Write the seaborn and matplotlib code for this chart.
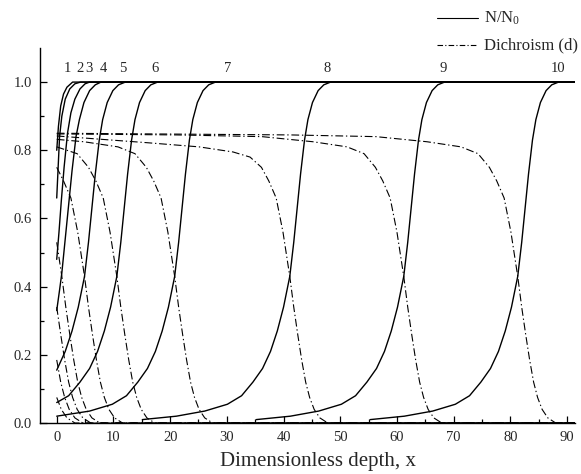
import matplotlib
matplotlib.use("Agg")
import matplotlib.pyplot as plt
import seaborn as sns

# N/N0 profiles (solid), one list per curve label 1..10
n_x = [
    [0, 0.3, 0.7, 1.2, 1.8, 2.8, 91.4],
    [0, 0.25, 0.5, 0.9, 1.5, 2.3, 3.2, 4.2, 91.4],
    [0, 0.4, 0.8, 1.3, 1.9, 2.5, 3.2, 4.1, 5.0, 5.8, 91.4],
    [0, 0.5, 0.9, 1.5, 2.1, 2.7, 3.4, 4.0, 4.8, 5.8, 6.8, 7.8, 91.4],
    [0, 1.5, 2.7, 3.8, 4.9, 5.6, 6.2, 6.8, 7.5, 8.1, 8.9, 9.9, 10.9, 12.1, 91.4],
    [0, 2.1, 4.1, 5.8, 7.2, 8.4, 9.5, 10.6, 11.3, 11.9, 12.5, 13.2, 13.8, 14.6,
     15.6, 16.6, 17.8, 91.4],
    [0, 5.8, 9.8, 12.3, 14.3, 16.0, 17.4, 18.6, 19.7, 20.8, 21.5, 22.1, 22.7, 23.4,
     24.0, 24.8, 25.8, 26.8, 28.0, 91.4],
    [15.1, 21.1, 26.1, 30.1, 32.6, 34.6, 36.3, 37.7, 38.9, 40.0, 41.1, 41.8, 42.4,
     43.0, 43.7, 44.3, 45.1, 46.1, 47.1, 48.3, 91.4],
    [35.2, 41.2, 46.2, 50.2, 52.7, 54.7, 56.4, 57.8, 59.0, 60.1, 61.2, 61.9, 62.5,
     63.1, 63.8, 64.4, 65.2, 66.2, 67.2, 68.4, 91.4],
    [55.3, 61.3, 66.3, 70.3, 72.8, 74.8, 76.5, 77.9, 79.1, 80.2, 81.3, 82.0, 82.6,
     83.2, 83.9, 84.5, 85.3, 86.3, 87.3, 88.5, 91.4],
]
n_y = [
    [0.80, 0.87, 0.93, 0.965, 0.985, 1.0, 1.0],
    [0.66, 0.75, 0.84, 0.90, 0.95, 0.98, 0.995, 1.0, 1.0],
    [0.48, 0.56, 0.65, 0.75, 0.85, 0.91, 0.95, 0.98, 0.995, 1.0, 1.0],
    [0.33, 0.39, 0.44, 0.54, 0.64, 0.74, 0.84, 0.89, 0.94, 0.975, 0.992, 1.0, 1.0],
    [0.155, 0.21, 0.27, 0.34, 0.43, 0.53, 0.63, 0.73, 0.83, 0.89, 0.94, 0.975, 0.992,
     1.0, 1.0],
    [0.06, 0.08, 0.12, 0.16, 0.21, 0.27, 0.34, 0.43, 0.53, 0.63, 0.73, 0.83, 0.89,
     0.94, 0.975, 0.992, 1.0, 1.0],
    [0.02, 0.035, 0.055, 0.08, 0.12, 0.16, 0.21, 0.27, 0.34, 0.43, 0.53, 0.63, 0.73,
     0.83, 0.89, 0.94, 0.975, 0.992, 1.0, 1.0],
    [0.01, 0.02, 0.035, 0.055, 0.08, 0.12, 0.16, 0.21, 0.27, 0.34, 0.43, 0.53, 0.63,
     0.73, 0.83, 0.89, 0.94, 0.975, 0.992, 1.0, 1.0],
    [0.01, 0.02, 0.035, 0.055, 0.08, 0.12, 0.16, 0.21, 0.27, 0.34, 0.43, 0.53, 0.63,
     0.73, 0.83, 0.89, 0.94, 0.975, 0.992, 1.0, 1.0],
    [0.01, 0.02, 0.035, 0.055, 0.08, 0.12, 0.16, 0.21, 0.27, 0.34, 0.43, 0.53, 0.63,
     0.73, 0.83, 0.89, 0.94, 0.975, 0.992, 1.0, 1.0],
]

# dichroism profiles (dash-dot)
d_x = [
    [0, 0.8, 1.8, 3.2, 91.4],
    [0, 0.7, 1.4, 2.2, 3.2, 4.6, 91.4],
    [0, 0.7, 1.4, 2.1, 2.8, 3.6, 4.6, 6.0, 91.4],
    [0, 0.9, 1.6, 2.3, 3.0, 3.7, 4.4, 5.2, 6.2, 7.6, 91.4],
    [0, 1.2, 2.5, 3.7, 4.9, 5.6, 6.3, 7.0, 7.7, 8.4, 9.2, 10.2, 11.6, 91.4],
    [0, 3.6, 5.6, 6.9, 8.2, 9.4, 10.6, 11.3, 12.0, 12.7, 13.4, 14.1, 14.9, 15.9,
     17.3, 91.4],
    [0, 4.8, 10.8, 13.8, 15.8, 17.1, 18.4, 19.6, 20.8, 21.5, 22.2, 22.9, 23.6, 24.3,
     25.1, 26.1, 27.5, 91.4],
    [0, 8.0, 16.1, 25.1, 31.1, 34.1, 36.1, 37.4, 38.7, 39.9, 41.1, 41.8, 42.5, 43.2,
     43.9, 44.6, 45.4, 46.4, 47.8, 91.4],
    [0, 21.2, 36.2, 45.2, 51.2, 54.2, 56.2, 57.5, 58.8, 60.0, 61.2, 61.9, 62.6, 63.3,
     64.0, 64.7, 65.5, 66.5, 67.9, 91.4],
    [0, 41.3, 56.3, 65.3, 71.3, 74.3, 76.3, 77.6, 78.9, 80.1, 81.3, 82.0, 82.7, 83.4,
     84.1, 84.8, 85.6, 86.6, 88.0, 91.4],
]
d_y = [
    [0.075, 0.04, 0.015, 0.0, 0.0],
    [0.185, 0.12, 0.075, 0.04, 0.015, 0.0, 0.0],
    [0.34, 0.26, 0.185, 0.12, 0.075, 0.04, 0.015, 0.0, 0.0],
    [0.53, 0.43, 0.34, 0.26, 0.185, 0.12, 0.075, 0.04, 0.015, 0.0, 0.0],
    [0.75, 0.71, 0.66, 0.56, 0.43, 0.34, 0.26, 0.185, 0.12, 0.075, 0.04, 0.015, 0.0,
     0.0],
    [0.81, 0.79, 0.75, 0.71, 0.66, 0.56, 0.43, 0.34, 0.26, 0.185, 0.12, 0.075, 0.04,
     0.015, 0.0, 0.0],
    [0.832, 0.825, 0.81, 0.79, 0.75, 0.71, 0.66, 0.56, 0.43, 0.34, 0.26, 0.185, 0.12,
     0.075, 0.04, 0.015, 0.0, 0.0],
    [0.842, 0.832, 0.822, 0.81, 0.795, 0.78, 0.75, 0.71, 0.66, 0.56, 0.43, 0.34, 0.26,
     0.185, 0.12, 0.075, 0.04, 0.015, 0.0, 0.0],
    [0.848, 0.845, 0.84, 0.825, 0.81, 0.79, 0.75, 0.71, 0.66, 0.56, 0.43, 0.34, 0.26,
     0.185, 0.12, 0.075, 0.04, 0.015, 0.0, 0.0],
    [0.85, 0.845, 0.84, 0.825, 0.81, 0.79, 0.75, 0.71, 0.66, 0.56, 0.43, 0.34, 0.26,
     0.185, 0.12, 0.075, 0.04, 0.015, 0.0, 0.0],
]

curve_labels = ["1", "2", "3", "4", "5", "6", "7", "8", "9", "10"]
label_x = [1.9, 4.1, 5.6, 8.3, 11.6, 17.3, 30.2, 47.6, 68.1, 88.4]

x_ticks = [0, 10, 20, 30, 40, 50, 60, 70, 80, 90]
y_ticks = [0.0, 0.2, 0.4, 0.6, 0.8, 1.0]

sns.set_theme(style="ticks")
plt.rcParams["font.family"] = ["Liberation Serif", "DejaVu Serif"]
plt.rcParams["mathtext.default"] = "regular"

fig = plt.figure(figsize=(5.81, 4.74), dpi=100)
ax = fig.add_axes([40 / 581, 51 / 474, 535 / 581, 375 / 474])

dashdot = (0, (7, 2.5, 1.2, 2.5))
for xs, ys in zip(d_x, d_y):
    sns.lineplot(x=xs, y=ys, ax=ax, color="black", lw=0.8, estimator=None, sort=False)
    ax.lines[-1].set_linestyle(dashdot)
for xs, ys in zip(n_x, n_y):
    sns.lineplot(x=xs, y=ys, ax=ax, color="black", lw=1.0, estimator=None, sort=False)

for lab, lx in zip(curve_labels, label_x):
    ax.text(lx, 1.02, lab, ha="center", va="bottom", fontsize=10.5)

ax.set_xlim(-2.95, 91.4)
ax.set_ylim(0, 1.1)
ax.set_xticks(x_ticks)
ax.set_xticks([5, 15, 25, 35, 45, 55, 65, 75, 85], minor=True)
ax.set_yticks(y_ticks)
ax.set_yticklabels([f"{v:.1f}" for v in y_ticks])
ax.set_yticks([0.1, 0.3, 0.5, 0.7, 0.9], minor=True)
ax.tick_params(which="both", direction="in", color="black", width=0.9)
ax.tick_params(which="major", length=5, labelsize=10.5, pad=6)
ax.tick_params(which="minor", length=3)
for s in ["top", "right"]:
    ax.spines[s].set_visible(False)
for s in ["left", "bottom"]:
    ax.spines[s].set_color("black")
    ax.spines[s].set_linewidth(1.0)
ax.set_xlabel("Dimensionless depth, x", fontsize=15)
ax.xaxis.set_label_coords(0.52, -0.078)
ax.set_ylabel("")

# legend drawn in figure pixels
fig.add_artist(plt.Line2D([437 / 581, 478 / 581], [1 - 18 / 474] * 2, color="black", lw=0.8))
fig.add_artist(plt.Line2D([437 / 581, 478 / 581], [1 - 45 / 474] * 2, color="black", lw=0.8,
                          linestyle=(0, (5, 2, 1, 2))))
fig.text(484 / 581, 1 - 18 / 474, "N/N$_0$", fontsize=12, va="center", ha="left")
fig.text(484 / 581, 1 - 45 / 474, "Dichroism (d)", fontsize=12, va="center", ha="left")

fig.savefig("out.png", dpi=100)
